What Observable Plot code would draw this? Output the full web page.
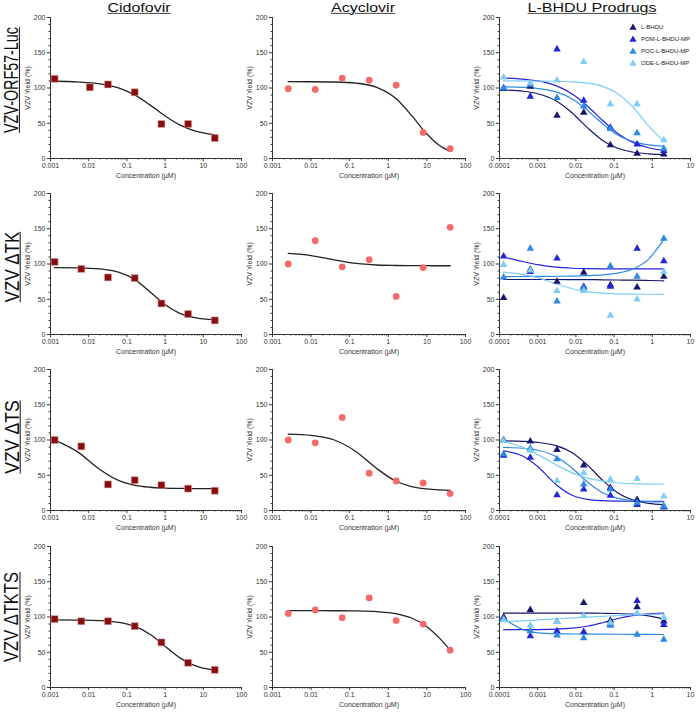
<!DOCTYPE html>
<html><head><meta charset="utf-8">
<script src="https://cdn.jsdelivr.net/npm/d3@7"></script>
<script src="https://cdn.jsdelivr.net/npm/@observablehq/plot@0.6"></script>
<style>
body{margin:0;background:#fff;font-family:"Liberation Sans",Arial,sans-serif;}
#wrap{position:relative;width:700px;height:712px;overflow:hidden;background:#fff;}
.coltitle{position:absolute;font-size:16px;line-height:16px;text-decoration:underline;text-decoration-thickness:1px;white-space:nowrap;color:#111;transform-origin:50% 0;}
.rowlabel{position:absolute;font-size:20px;line-height:22px;text-decoration:underline;text-decoration-thickness:1px;white-space:nowrap;color:#111;}
.legend{position:absolute;font-size:6px;color:#222;}
.legend div{height:12px;display:flex;align-items:center;white-space:nowrap;}
.legend svg{margin-right:4px;}
</style></head><body><div id="wrap"></div>
<script>
// ---------- data ----------
const columns = ["Cidofovir", "Acyclovir", "L-BHDU Prodrugs"];
const rows = ["VZV-ORF57-Luc", "VZV \u0394TK", "VZV \u0394TS", "VZV \u0394TKTS"];
const yTicks = [0, 50, 100, 150, 200];
const decTicksA = [0.001, 0.01, 0.1, 1, 10, 100];
const decLabelsA = ["0.001", "0.01", "0.1", "1", "10", "100"];
const decTicksB = [0.0001, 0.001, 0.01, 0.1, 1, 10];
const decLabelsB = ["0.0001", "0.001", "0.01", "0.1", "1", "10"];

const cidoConc = [0.00128, 0.0064, 0.032, 0.16, 0.8, 4, 20];
const cidoConcRow1 = [0.00128, 0.0107, 0.032, 0.16, 0.8, 4, 20];
const acvConc = [0.00256, 0.0128, 0.064, 0.32, 1.6, 8, 40];
const bhduConc = [0.000128, 0.00064, 0.0032, 0.016, 0.08, 0.4, 2];

const cidoYield = [
  [113, 101, 105, 94, 49, 49, 29],
  [103, 93, 81, 80, 44, 29, 20],
  [100, 91, 37, 43, 36, 31, 28],
  [97, 94, 94, 87, 64, 35, 25]
];
const acvYield = [
  [99, 98, 114, 111, 104, 37, 14],
  [100, 133, 96, 106, 54, 95, 152],
  [100, 96, 132, 53, 42, 39, 24],
  [105, 110, 99, 127, 95, 90, 53]
];
const seriesNames = ["L-BHDU", "POM-L-BHDU-MP", "POC-L-BHDU-MP", "ODE-L-BHDU-MP"];
const seriesColors = ["#16166e", "#2424d8", "#2e8ae6", "#7dcdf5"];
const bhduYield = [
  [[99, 102, 61, 65, 19, 7, 6], [100, 88, 155, 82, 44, 20, 11], [100, 105, 86, 74, 42, 36, 14], [115, 107, 111, 137, 77, 77, 26]],
  [[52, 92, 75, 88, 70, 67, 82], [111, 89, 108, 68, 68, 122, 104], [81, 122, 47, 66, 97, 82, 136], [99, 91, 62, 62, 27, 50, 89]],
  [[100, 98, 86, 64, 32, 15, 5], [78, 75, 22, 30, 21, 8, 5], [80, 88, 73, 37, 30, 11, 6], [99, 85, 42, 53, 44, 45, 20]],
  [[100, 110, 93, 120, 95, 114, 94], [98, 73, 80, 79, 90, 123, 89], [97, 80, 74, 70, 88, 75, 68], [96, 88, 93, 102, 92, 106, 99]]
];

// fitted curves at these concentrations
const cidoFitX = [0.00128, 0.005, 0.02, 0.06, 0.15, 0.4, 1, 2.5, 6, 20];
const cidoFitY = [
  [109.6, 108.7, 105.9, 100.1, 90.9, 76.1, 60.4, 47.3, 39.1, 33.5],
  [94.9, 94.6, 93.0, 88.4, 78.9, 60.8, 42.2, 29.7, 23.9, 21.0],
  [99.8, 83.5, 57.8, 42.6, 36.1, 33.0, 31.8, 31.3, 31.1, 31.0],
  [96, 95.7, 94.9, 92.5, 87.4, 75.6, 58.6, 41.7, 31.1, 24.7]
];
const acvFitX = [0.00256, 0.01, 0.04, 0.15, 0.5, 1.5, 4, 10, 20, 40];
const acvFitY = [
  [109, 108.9, 108.5, 106.8, 101, 86.1, 61.2, 34.7, 19.5, 10],
  [115, 112, 106, 100.8, 98.6, 97.9, 97.7, 97.6, 97.5, 97.5],
  [108.4, 106.6, 100, 83.1, 59.6, 42.2, 34, 30.6, 29.3, 28.6],
  [109, 109, 108.9, 108.6, 107.6, 104.9, 98.6, 86.3, 71.4, 53.1]
];
const bhduFitX = [0.000128, 0.0004, 0.001, 0.003, 0.008, 0.02, 0.05, 0.12, 0.3, 0.8, 2];
const bhduFitY = [
  [[97.2, 95.5, 91.9, 81.9, 64.6, 43.8, 25.7, 14.9, 9.2, 6.6, 5.6],
   [114.1, 112.7, 110.0, 103.3, 91.5, 74.4, 54.0, 36.3, 23.2, 15.2, 11.5],
   [101.6, 100.9, 99.3, 94.5, 84.5, 68.5, 49.2, 33.8, 24.2, 19.2, 17.3],
   [110, 110, 109.9, 109.6, 108.8, 106.9, 102.3, 92.6, 73.7, 46.2, 23.9]],
  [[78, 78, 78, 78, 77.9, 77.8, 77.6, 77.3, 77, 76.6, 76.2],
   [110, 103.5, 99, 95.5, 94, 93.4, 93.2, 93.1, 93.1, 93, 93],
   [82.2, 82.3, 82.4, 82.6, 82.9, 83.5, 84.6, 87, 92.5, 107, 135],
   [88.4, 85.4, 80.6, 72, 64.9, 60.7, 58.6, 57.7, 57.3, 57.1, 57]],
  [[98.7, 98.1, 96.7, 92.1, 81.9, 64.6, 42.9, 25.7, 15.2, 10.1, 8.2],
   [84.6, 77.4, 62.5, 37, 21.7, 15.8, 13.9, 13.3, 13.1, 13, 13],
   [89.5, 88.3, 85.5, 76.5, 59.9, 40.3, 25.2, 17.5, 14.1, 12.7, 12.3],
   [98, 89.9, 79.6, 64.9, 53.4, 46, 41.7, 39.4, 38.2, 37.5, 37.2]],
  [[105.5, 105.5, 105.5, 105.5, 105.5, 105.4, 105.3, 105, 104, 101.5, 97],
   [82, 82.1, 82.2, 82.7, 84.1, 86.9, 91.9, 97.5, 102, 104.5, 105.4],
   [97.5, 82.5, 77.5, 76.2, 75.9, 75.7, 75.6, 75.5, 75.4, 75.3, 75.2],
   [93.5, 94.5, 95.8, 97.3, 98.7, 99.9, 101, 102, 102.9, 103.6, 104]]
];

// ---------- layout ----------
const wrap = document.getElementById("wrap");
const rowTop = [17, 193, 369, 546];
const plotH = 141, MT = 10, MB = 26;
const colLayout = [
  {left: 20, width: 240, ml: 30, mr: 19},
  {left: 240, width: 245, ml: 32, mr: 20},
  {left: 468, width: 232, ml: 31, mr: 10}
];
const font = "'Liberation Sans', Arial, sans-serif";

function zip(xs, ys) { return xs.map((x, i) => ({x, y: ys[i]})); }

function makePanel(c, r) {
  const L = colLayout[c];
  const xTicks = c === 2 ? decTicksB : decTicksA;
  const xLabels = c === 2 ? decLabelsB : decLabelsA;
  const labelOf = new Map(xTicks.map((t, i) => [t, xLabels[i]]));
  const minorX = xTicks.slice(0, -1).flatMap(t => [2, 3, 4, 5, 6, 7, 8, 9].map(m => t * m));
  const minorY = d3.range(10, 200, 10).filter(v => v % 50 !== 0);
  const dataMarks = [];
  if (c === 0) {
    dataMarks.push(Plot.line(zip(cidoFitX, cidoFitY[r]), {x: "x", y: "y", stroke: "#222", strokeWidth: 1.3, curve: "monotone-x"}));
    dataMarks.push(Plot.dot(zip(r === 0 ? cidoConcRow1 : cidoConc, cidoYield[r]), {x: "x", y: "y", symbol: "square", r: 3.9, fill: "#8a0c0c", stroke: "#d9a0a0", strokeWidth: 0.5}));
  } else if (c === 1) {
    dataMarks.push(Plot.line(zip(acvFitX, acvFitY[r]), {x: "x", y: "y", stroke: "#222", strokeWidth: 1.3, curve: "monotone-x"}));
    dataMarks.push(Plot.dot(zip(acvConc, acvYield[r]), {x: "x", y: "y", r: 3.4, fill: "#f46a6a"}));
  } else {
    seriesNames.forEach((s, k) => {
      dataMarks.push(Plot.line(zip(bhduFitX, bhduFitY[r][k]), {x: "x", y: "y", stroke: seriesColors[k], strokeWidth: 1.2, curve: "monotone-x"}));
    });
    seriesNames.forEach((s, k) => {
      dataMarks.push(Plot.dot(zip(bhduConc, bhduYield[r][k]), {x: "x", y: "y", symbol: "triangle", r: 2.8, fill: seriesColors[k]}));
    });
  }
  const svg = Plot.plot({
    width: L.width, height: MT + plotH + MB,
    marginTop: MT, marginBottom: MB, marginLeft: L.ml, marginRight: L.mr,
    style: {background: "transparent", fontFamily: font, fontSize: "7px", color: "#333", overflow: "visible"},
    x: {type: "log", domain: [xTicks[0], xTicks[xTicks.length - 1]]},
    y: {domain: [0, 200]},
    marks: [
      Plot.axisY({ticks: minorY, tickSize: 1.5, tickFormat: () => "", label: null}),
      Plot.axisY({ticks: yTicks, tickSize: 3, tickPadding: 2, label: "VZV Yield (%)", labelAnchor: "center", labelOffset: 25, labelArrow: "none"}),
      Plot.axisX({ticks: minorX, tickSize: 1.5, tickFormat: () => "", label: null}),
      Plot.axisX({ticks: xTicks, tickSize: 3, tickPadding: 2, tickFormat: d => labelOf.get(d), label: "Concentration (\u00b5M)", labelAnchor: "center", labelOffset: 19, labelArrow: "none"}),
      Plot.ruleX([xTicks[0]], {stroke: "#333", strokeWidth: 1}),
      Plot.ruleY([0], {stroke: "#333", strokeWidth: 1}),
      ...dataMarks
    ]
  });
  svg.style.position = "absolute";
  svg.style.left = L.left + "px";
  svg.style.top = (rowTop[r] - MT) + "px";
  wrap.appendChild(svg);
}

for (let r = 0; r < 4; r++) for (let c = 0; c < 3; c++) makePanel(c, r);

// column titles
const titleX = [139, 363, 592];
columns.forEach((t, i) => {
  const d = document.createElement("div");
  d.className = "coltitle";
  d.textContent = t;
  d.style.left = titleX[i] + "px";
  d.style.top = "1.5px";
  d.style.transform = "translateX(-50%) scaleY(0.78)";
  wrap.appendChild(d);
});

// row labels (rotated)
const rowCenterY = [80, 267, 437, 617];
const rowLen = [106, 70, 73, 90];
const rowCenterX = 11;
rows.forEach((t, i) => {
  const d = document.createElement("div");
  d.className = "rowlabel";
  d.textContent = t;
  d.style.left = "0px";
  d.style.top = rowCenterY[i] + "px";
  wrap.appendChild(d);
  const w = d.offsetWidth, h = d.offsetHeight;
  d.style.left = (rowCenterX - w / 2) + "px";
  d.style.top = (rowCenterY[i] - h / 2) + "px";
  d.style.transform = `rotate(-90deg) scaleX(${rowLen[i] / w})`;
});

// legend
const lg = document.createElement("div");
lg.className = "legend";
lg.style.left = "629px";
lg.style.top = "21px";
seriesNames.forEach((s, k) => {
  const row = document.createElement("div");
  const sym = d3.create("svg").attr("width", 8).attr("height", 8);
  sym.append("path").attr("d", d3.symbol(d3.symbolTriangle, 23)()).attr("transform", "translate(4,4.6)").attr("fill", seriesColors[k]);
  row.appendChild(sym.node());
  const sp = document.createElement("span");
  sp.textContent = s;
  row.appendChild(sp);
  lg.appendChild(row);
});
wrap.appendChild(lg);
</script></body></html>
